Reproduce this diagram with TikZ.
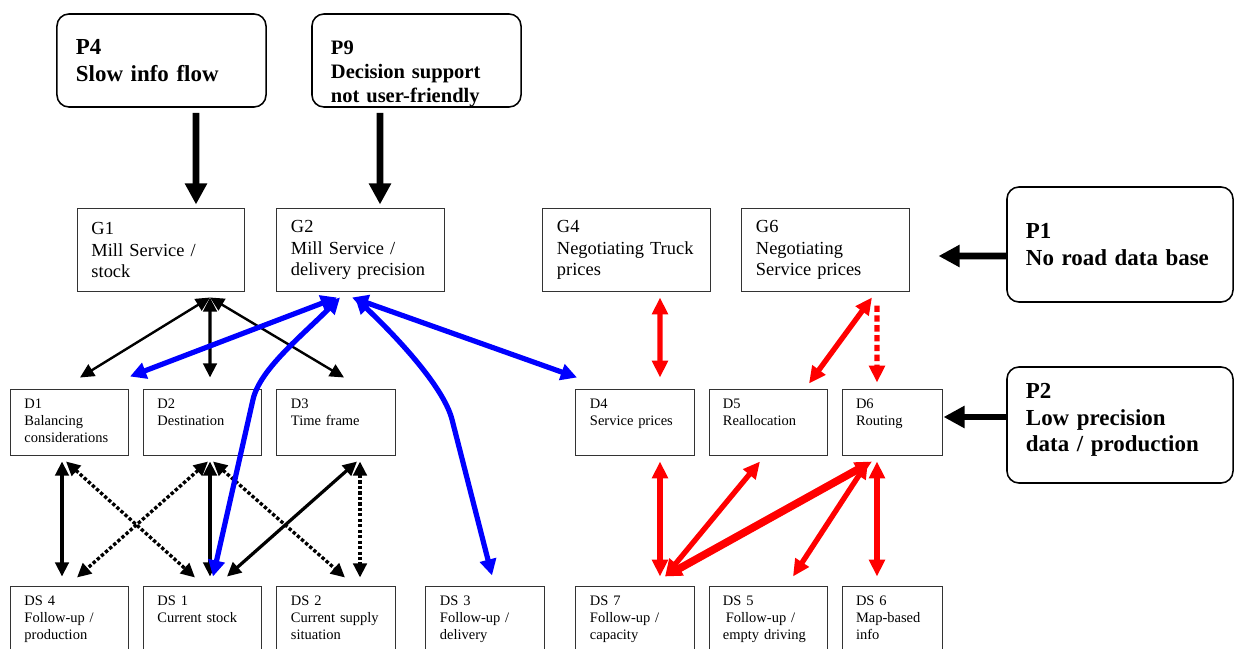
\documentclass[tikz,border=0pt]{standalone}
\usepackage{fontspec}
\setmainfont{Liberation Serif}
\usetikzlibrary{arrows.meta}
\usetikzlibrary{calc}
\definecolor{red1}{RGB}{255, 0, 0}
\definecolor{blue1}{RGB}{0, 0, 255}

\tikzset{
  probbox/.style={draw, rounded corners=0.3cm, line width=1.1pt, align=left,
    inner xsep=0.475cm, inner ysep=0pt, font=\fontsize{16.3}{18.8}\selectfont\bfseries},
  goalbox/.style={draw=black!80, line width=0.7pt, minimum width=4.175cm, minimum height=2.05cm,
    text width=3.475cm, align=left, inner xsep=0.35cm, inner ysep=0pt,
    font=\fontsize{13.1}{15.3}\selectfont},
  decbox/.style={draw=black!80, line width=0.7pt, minimum width=2.95cm, minimum height=1.65cm,
    text width=2.25cm, align=left, inner xsep=0.35cm, inner ysep=0pt,
    font=\fontsize{10.3}{12.4}\selectfont},
  bigarr/.style={line width=4.8pt, ->, >={Triangle[length=15pt,width=15pt]}},
  blackarr/.style={line width=1.7pt, <->, >={Triangle[length=10pt,width=9.5pt]}},
  blackdot/.style={blackarr, line width=2.4pt, dash pattern=on 2.4pt off 1.5pt},
  bluearr/.style={blue1, line width=3.7pt, <->, >={Triangle[length=11.5pt,width=11.5pt]}},
  redarr/.style={red1, line width=3.8pt, <->, >={Triangle[length=12pt,width=11pt]}}
}

\begin{document}
\begin{tikzpicture}[x=0.025cm, y=-0.025cm]
  \useasboundingbox (0,0) rectangle (1236,649);
  \clip (0,0) rectangle (1236,649);
  % problems
  \node[probbox, minimum width=5.225cm, minimum height=2.325cm, text width=4.275cm] (p4) at (161.5,60.5) {P4\\Slow info flow};
  \node[probbox, minimum width=5.225cm, minimum height=2.325cm, text width=4.275cm,
    font=\fontsize{14.6}{17}\selectfont\bfseries] (p9) at (416.5,60.5) {\strut\\P9\\Decision support\\not user-friendly};
  \node[probbox, minimum width=5.65cm, minimum height=2.875cm, text width=4.7cm] (p1) at (1120,244.5) {P1\\No road data base};
  \node[probbox, minimum width=5.65cm, minimum height=2.9cm, text width=4.7cm] (p2) at (1120,425) {P2\\Low precision\\data / production\\[-14pt]\strut};
  % goals
  \node[goalbox] (g1) at (161,250) {G1\\Mill Service /\\stock};
  \node[goalbox] (g2) at (360.5,250) {G2\\Mill Service /\\delivery precision};
  \node[goalbox] (g4) at (626.5,250) {G4\\Negotiating Truck\\prices};
  \node[goalbox] (g6) at (825.5,250) {G6\\Negotiating\\Service prices};
  % decisions
  \node[decbox] (d1) at (69.5,422) {\strut D1\\Balancing\\considerations\strut};
  \node[decbox] (d2) at (202.5,422) {\strut D2\\Destination\\\strut};
  \node[decbox] (d3) at (336,422) {\strut D3\\Time frame\\\strut};
  \node[decbox] (d4) at (635,422) {\strut D4\\Service prices\\\strut};
  \node[decbox] (d5) at (768,422) {\strut D5\\Reallocation\\\strut};
  \node[decbox, minimum width=2.5cm, text width=1.8cm] (d6) at (892,422) {\strut D6\\Routing\\\strut};
  % decision support
  \node[decbox] (ds4) at (69.5,619) {\strut DS 4\\Follow-up /\\production\strut};
  \node[decbox] (ds1) at (202.5,619) {\strut DS 1\\Current stock\\\strut};
  \node[decbox] (ds2) at (336,619) {\strut DS 2\\Current supply\\situation\strut};
  \node[decbox] (ds3) at (485,619) {\strut DS 3\\Follow-up /\\delivery\strut};
  \node[decbox] (ds7) at (635,619) {\strut DS 7\\Follow-up /\\capacity\strut};
  \node[decbox] (ds5) at (768,619) {\strut DS 5\\\hspace*{0.2em}Follow-up /\\empty driving\strut};
  \node[decbox, minimum width=2.5cm, text width=1.8cm] (ds6) at (892,619) {\strut DS 6\\Map-based\\info\strut};

  % problem arrows
  \draw[bigarr] ($(p4.south)+(34.5,5)$) -- ($(g1.north)+(35,-4)$);
  \draw[bigarr] ($(p9.south)+(-36.5,5)$) -- ($(g2.north)+(19.5,-4)$);
  \draw[bigarr] ($(p1.west)+(0,11.5)$) -- ($(g6.east)+(29,6)$);
  \draw[bigarr] ($(p2.west)+(0,-8)$) -- ($(d6.east)+(1,-5)$);

  % G1 fan
  \foreach \b/\ex in {d1/10.5, d3/8}
    \draw[blackarr] ($(g1.south)+(49,6)$) -- ($(\b.north)+(\ex,-11)$);
  \draw[blackarr, line width=2.3pt] ($(g1.south)+(49,6)$) -- ($(d2.north)+(7.5,-11)$);

  % D - DS black
  \foreach \a/\dx/\b/\ex in {d1/-7.5/ds4/-7.5, d2/7.5/ds1/7.5, d3/21/ds1/24.5}
    \draw[blackarr, line width=2.3pt] ($(\a.south)+(\dx,6)$) -- ($(\b.north)+(\ex,-9)$);
  \foreach \a/\dx/\b/\ex in {d1/-3.5/ds1/-7.5, d2/5.5/ds4/7.5, d2/10.5/ds2/9, d3/24/ds2/24}
    \draw[blackdot] ($(\a.south)+(\dx,6)$) -- ($(\b.north)+(\ex,-8)$);

  % blue
  \draw[bluearr] ($(g2.south)+(-23.5,6)$) -- ($(d1.north)+(60.5,-12)$);
  \draw[bluearr] ($(g2.south)+(-8.5,6)$) -- ($(d4.north)+(-58,-11)$);
  \draw[bluearr] ($(g2.south)+(-20.5,6)$) .. controls ($(g2.south)+(-60.5,46)$) and ($(d2.north)+(57.5,-19)$)
    .. ($(d2.north)+(50.5,11)$) -- ($(ds1.north)+(10.5,-9)$);
  \draw[bluearr] ($(g2.south)+(-5.5,6)$) .. controls ($(g2.south)+(29.5,39)$) and ($(ds3.north)+(-42,-201)$)
    .. ($(ds3.north)+(-33,-166)$) -- ($(ds3.north)+(7,-10)$);

  % red
  \draw[redarr] ($(g4.south)+(33.5,6)$) -- ($(d4.north)+(25,-11)$);
  \draw[redarr] ($(g6.south)+(46.5,6)$) -- ($(d5.north)+(41,-5)$);
  \draw[redarr, ->, dash pattern=on 4.5pt off 2.5pt] ($(g6.south)+(51.5,14)$) -- ($(d6.north)+(-15,-6)$);
  \foreach \a/\dx/\b/\ex in {d4/25/ds7/25, d5/-8/ds7/30, d6/-24/ds5/25, d6/-15/ds6/-15}
    \draw[redarr] ($(\a.south)+(\dx,6)$) -- ($(\b.north)+(\ex,-9)$);
  \draw[redarr, line width=5.5pt] ($(d6.south)+(-20,6)$) -- ($(ds7.north)+(30,-9)$);
 %\draw[redarr] (d6) -- (ds7);
\end{tikzpicture}
\end{document}
